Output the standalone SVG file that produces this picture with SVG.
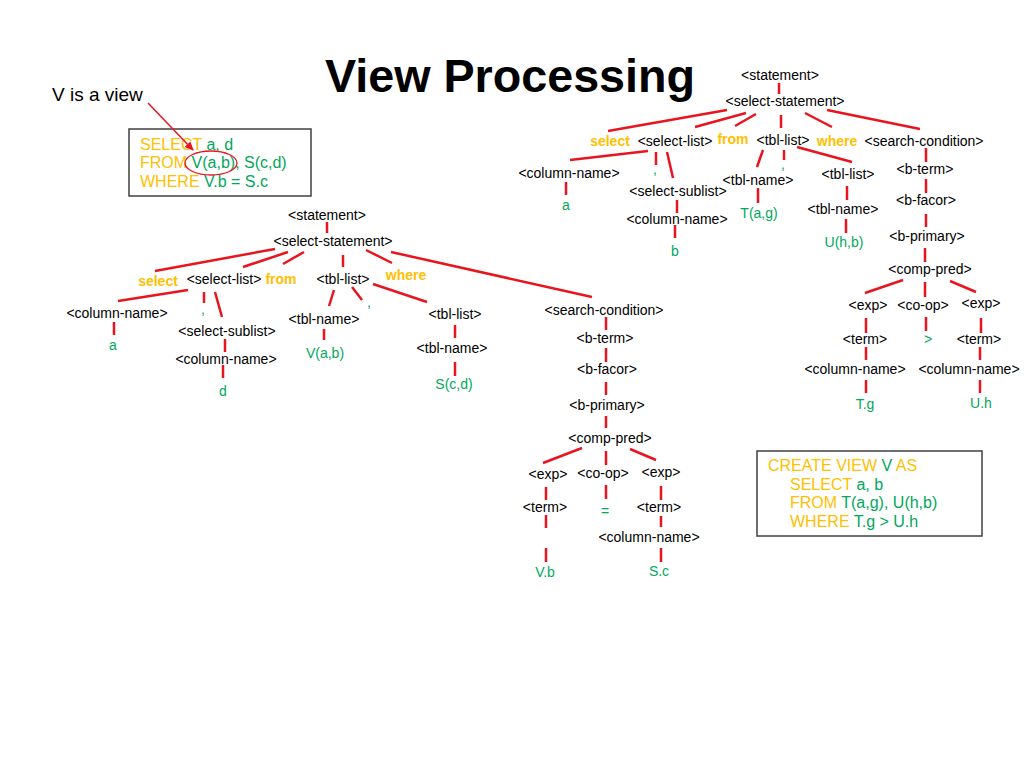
<svg xmlns="http://www.w3.org/2000/svg" width="1024" height="768" viewBox="0 0 1024 768">
<style>
text{font-family:"Liberation Sans",Arial,sans-serif;font-size:14px;fill:#000;text-anchor:middle}
.kw{font-weight:bold;fill:#FFC000}
.g{fill:#00A85A}
.o{fill:#FFC000}
.code{font-size:16px;text-anchor:start}
.title{font-size:46px;font-weight:bold;text-anchor:start}
#connectors line{stroke:#E8141E;stroke-width:2.5;stroke-linecap:butt}
.box{fill:#fff;stroke:#404040;stroke-width:1.5}
</style>
<defs>
<marker id="ah" markerWidth="10" markerHeight="10" refX="8" refY="4" orient="auto" markerUnits="userSpaceOnUse">
<path d="M0,0 L9,4 L0,8 z" fill="#E8141E"/>
</marker>
</defs>
<rect width="1024" height="768" fill="#fff"/>
<text class="title" x="325" y="92" textLength="370" lengthAdjust="spacingAndGlyphs">View Processing</text>
<g id="note"><text x="52" y="101" style="font-size:19px;text-anchor:start">V is a view</text></g>
<g id="query-box">
<rect class="box" x="129" y="129" width="182" height="67"/>
<text class="code" x="140" y="150"><tspan class="o">SELECT</tspan><tspan class="g"> a, d</tspan></text>
<text class="code" x="140" y="168"><tspan class="o">FROM</tspan><tspan class="g"> V(a,b), S(c,d)</tspan></text>
<text class="code" x="140" y="187"><tspan class="o">WHERE</tspan><tspan class="g"> V.b = S.c</tspan></text>
<ellipse cx="211" cy="163" rx="26" ry="12" fill="none" stroke="#E8141E" stroke-width="1.3"/>
</g>
<g id="view-box">
<rect class="box" x="757" y="451" width="225" height="85"/>
<text class="code" x="768" y="471"><tspan class="o">CREATE VIEW</tspan><tspan class="g"> V</tspan><tspan class="o"> AS</tspan></text>
<text class="code" x="790" y="490"><tspan class="o">SELECT</tspan><tspan class="g"> a, b</tspan></text>
<text class="code" x="790" y="508"><tspan class="o">FROM</tspan><tspan class="g"> T(a,g), U(h,b)</tspan></text>
<text class="code" x="790" y="527"><tspan class="o">WHERE</tspan><tspan class="g"> T.g &gt; U.h</tspan></text>
</g>
<g id="connectors">
<line x1="148" y1="103" x2="193" y2="150" style="stroke-width:1.5" marker-end="url(#ah)"/>
<!-- top tree -->
<line x1="779" y1="83" x2="779" y2="94"/>
<line x1="727" y1="110" x2="608" y2="131"/>
<line x1="746" y1="113" x2="695" y2="127"/>
<line x1="756" y1="114" x2="735" y2="126"/>
<line x1="781" y1="115" x2="781" y2="128"/>
<line x1="805" y1="113" x2="832" y2="127"/>
<line x1="827" y1="110" x2="920" y2="129"/>
<line x1="648" y1="151" x2="570" y2="160"/>
<line x1="656" y1="152" x2="656" y2="165"/>
<line x1="667" y1="152" x2="673" y2="178"/>
<line x1="566" y1="182" x2="566" y2="195"/>
<line x1="677" y1="200" x2="677" y2="213"/>
<line x1="675" y1="225" x2="675" y2="238"/>
<line x1="763" y1="150" x2="757" y2="167"/>
<line x1="784" y1="150" x2="784" y2="160"/>
<line x1="797" y1="147" x2="852" y2="162"/>
<line x1="758" y1="188" x2="758" y2="203"/>
<line x1="847" y1="186" x2="847" y2="200"/>
<line x1="846" y1="219" x2="846" y2="233"/>
<line x1="926" y1="148" x2="926" y2="162"/>
<line x1="926" y1="179" x2="926" y2="193"/>
<line x1="926" y1="214" x2="926" y2="227"/>
<line x1="925" y1="248" x2="925" y2="262"/>
<line x1="903" y1="280" x2="865" y2="293"/>
<line x1="925" y1="282" x2="925" y2="297"/>
<line x1="950" y1="281" x2="976" y2="292"/>
<line x1="866" y1="318" x2="866" y2="333"/>
<line x1="926" y1="317" x2="926" y2="331"/>
<line x1="981" y1="318" x2="981" y2="333"/>
<line x1="866" y1="347" x2="866" y2="360"/>
<line x1="980" y1="347" x2="980" y2="360"/>
<line x1="866" y1="380" x2="866" y2="393"/>
<line x1="980" y1="380" x2="980" y2="393"/>
<!-- left tree -->
<line x1="327" y1="222" x2="327" y2="233"/>
<line x1="275" y1="249" x2="155" y2="271"/>
<line x1="288" y1="252" x2="243" y2="267"/>
<line x1="304" y1="252" x2="283" y2="264"/>
<line x1="343" y1="255" x2="343" y2="267"/>
<line x1="366" y1="250" x2="392" y2="263"/>
<line x1="391" y1="252" x2="592" y2="297"/>
<line x1="188" y1="290" x2="118" y2="301"/>
<line x1="204" y1="292" x2="204" y2="303"/>
<line x1="215" y1="292" x2="222" y2="317"/>
<line x1="114" y1="322" x2="114" y2="335"/>
<line x1="225" y1="339" x2="225" y2="352"/>
<line x1="223" y1="365" x2="223" y2="378"/>
<line x1="334" y1="290" x2="329" y2="306"/>
<line x1="352" y1="287" x2="362" y2="300"/>
<line x1="373" y1="284" x2="427" y2="302"/>
<line x1="324" y1="329" x2="324" y2="340"/>
<line x1="455" y1="325" x2="455" y2="338"/>
<line x1="455" y1="362" x2="455" y2="376"/>
<line x1="606" y1="317" x2="606" y2="330"/>
<line x1="606" y1="348" x2="606" y2="362"/>
<line x1="606" y1="382" x2="606" y2="395"/>
<line x1="606" y1="416" x2="606" y2="428"/>
<line x1="582" y1="448" x2="543" y2="463"/>
<line x1="606" y1="451" x2="606" y2="465"/>
<line x1="630" y1="449" x2="656" y2="460"/>
<line x1="546" y1="487" x2="546" y2="500"/>
<line x1="606" y1="485" x2="606" y2="499"/>
<line x1="661" y1="486" x2="661" y2="500"/>
<line x1="546" y1="515" x2="546" y2="528"/>
<line x1="661" y1="516" x2="661" y2="527"/>
<line x1="546" y1="548" x2="546" y2="562"/>
<line x1="661" y1="548" x2="661" y2="562"/>
</g>
<!-- top tree nodes -->
<g id="t_statement"><text x="780" y="80">&lt;statement&gt;</text></g>
<g id="t_select_statement"><text x="785" y="106">&lt;select-statement&gt;</text></g>
<g id="t_select"><text class="kw" x="610" y="146">select</text></g>
<g id="t_select_list"><text x="675" y="146">&lt;select-list&gt;</text></g>
<g id="t_from"><text class="kw" x="733" y="144">from</text></g>
<g id="t_tbl_list"><text x="783" y="145">&lt;tbl-list&gt;</text></g>
<g id="t_where"><text class="kw" x="837" y="146">where</text></g>
<g id="t_search_condition"><text x="924" y="146">&lt;search-condition&gt;</text></g>
<g id="t_column_name1"><text x="569" y="178">&lt;column-name&gt;</text></g>
<g id="t_comma1"><text class="g" x="655" y="174">,</text></g>
<g id="t_select_sublist"><text x="678" y="196">&lt;select-sublist&gt;</text></g>
<g id="t_a"><text class="g" x="566" y="210">a</text></g>
<g id="t_column_name2"><text x="677" y="224">&lt;column-name&gt;</text></g>
<g id="t_b"><text class="g" x="675" y="256">b</text></g>
<g id="t_tbl_name1"><text x="758" y="185">&lt;tbl-name&gt;</text></g>
<g id="t_comma2"><text class="g" x="783" y="169">,</text></g>
<g id="t_Tag"><text class="g" x="759" y="218">T(a,g)</text></g>
<g id="t_tbl_list2"><text x="848" y="179">&lt;tbl-list&gt;</text></g>
<g id="t_tbl_name2"><text x="843" y="214">&lt;tbl-name&gt;</text></g>
<g id="t_Uhb"><text class="g" x="844" y="247">U(h,b)</text></g>
<g id="t_b_term"><text x="925" y="174">&lt;b-term&gt;</text></g>
<g id="t_b_facor"><text x="926" y="205">&lt;b-facor&gt;</text></g>
<g id="t_b_primary"><text x="927" y="241">&lt;b-primary&gt;</text></g>
<g id="t_comp_pred"><text x="930" y="274">&lt;comp-pred&gt;</text></g>
<g id="t_exp1"><text x="868" y="310">&lt;exp&gt;</text></g>
<g id="t_co_op"><text x="923" y="310">&lt;co-op&gt;</text></g>
<g id="t_exp2"><text x="981" y="308">&lt;exp&gt;</text></g>
<g id="t_term1"><text x="865" y="344">&lt;term&gt;</text></g>
<g id="t_gt"><text class="g" x="928" y="344">&gt;</text></g>
<g id="t_term2"><text x="979" y="344">&lt;term&gt;</text></g>
<g id="t_column_name3"><text x="855" y="374">&lt;column-name&gt;</text></g>
<g id="t_column_name4"><text x="969" y="374">&lt;column-name&gt;</text></g>
<g id="t_Tg"><text class="g" x="865" y="409">T.g</text></g>
<g id="t_Uh"><text class="g" x="981" y="408">U.h</text></g>
<!-- left tree nodes -->
<g id="l_statement"><text x="327" y="220">&lt;statement&gt;</text></g>
<g id="l_select_statement"><text x="333" y="246">&lt;select-statement&gt;</text></g>
<g id="l_select"><text class="kw" x="158" y="286">select</text></g>
<g id="l_select_list"><text x="224" y="284">&lt;select-list&gt;</text></g>
<g id="l_from"><text class="kw" x="281" y="284">from</text></g>
<g id="l_tbl_list"><text x="343" y="284">&lt;tbl-list&gt;</text></g>
<g id="l_where"><text class="kw" x="406" y="280">where</text></g>
<g id="l_column_name1"><text x="117" y="318">&lt;column-name&gt;</text></g>
<g id="l_comma1"><text class="g" x="203" y="314">,</text></g>
<g id="l_select_sublist"><text x="227" y="336">&lt;select-sublist&gt;</text></g>
<g id="l_a"><text class="g" x="113" y="350">a</text></g>
<g id="l_column_name2"><text x="226" y="364">&lt;column-name&gt;</text></g>
<g id="l_d"><text class="g" x="223" y="396">d</text></g>
<g id="l_tbl_name1"><text x="324" y="324">&lt;tbl-name&gt;</text></g>
<g id="l_comma2"><text class="g" x="369" y="307">,</text></g>
<g id="l_Vab"><text class="g" x="325" y="358">V(a,b)</text></g>
<g id="l_tbl_list2"><text x="455" y="319">&lt;tbl-list&gt;</text></g>
<g id="l_tbl_name2"><text x="452" y="353">&lt;tbl-name&gt;</text></g>
<g id="l_Scd"><text class="g" x="454" y="389">S(c,d)</text></g>
<g id="l_search_condition"><text x="604" y="315">&lt;search-condition&gt;</text></g>
<g id="l_b_term"><text x="605" y="343">&lt;b-term&gt;</text></g>
<g id="l_b_facor"><text x="607" y="374">&lt;b-facor&gt;</text></g>
<g id="l_b_primary"><text x="607" y="410">&lt;b-primary&gt;</text></g>
<g id="l_comp_pred"><text x="610" y="443">&lt;comp-pred&gt;</text></g>
<g id="l_exp1"><text x="548" y="479">&lt;exp&gt;</text></g>
<g id="l_co_op"><text x="603" y="478">&lt;co-op&gt;</text></g>
<g id="l_exp2"><text x="661" y="477">&lt;exp&gt;</text></g>
<g id="l_term1"><text x="545" y="512">&lt;term&gt;</text></g>
<g id="l_eq"><text class="g" x="605" y="516">=</text></g>
<g id="l_term2"><text x="659" y="512">&lt;term&gt;</text></g>
<g id="l_column_name"><text x="649" y="542">&lt;column-name&gt;</text></g>
<g id="l_Vb"><text class="g" x="545" y="577">V.b</text></g>
<g id="l_Sc"><text class="g" x="659" y="576">S.c</text></g>
</svg>
